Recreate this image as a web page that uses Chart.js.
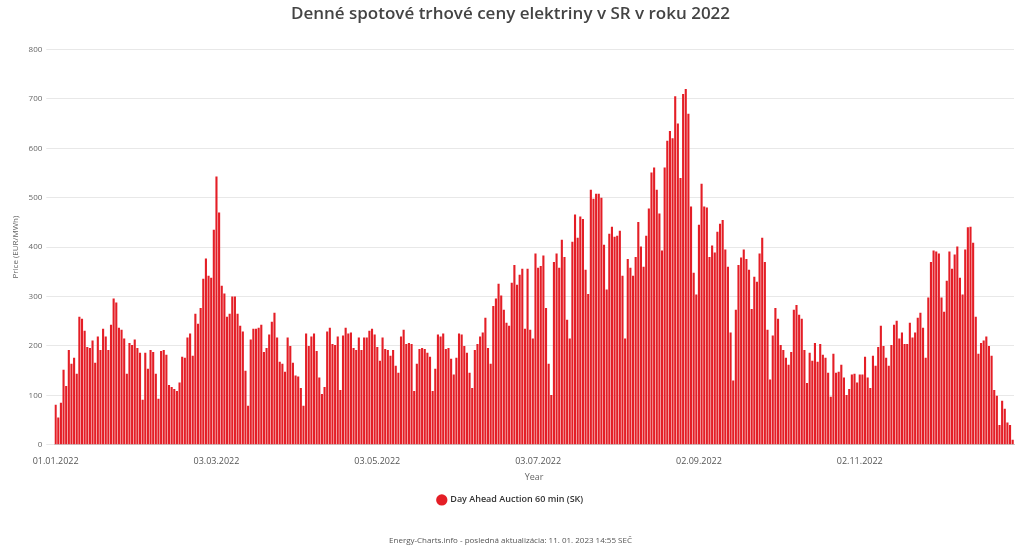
<!DOCTYPE html>
<html><head><meta charset="utf-8">
<script src="https://cdn.jsdelivr.net/npm/chart.js@4"></script>
<style>html,body{margin:0;padding:0;background:#fff}#w{width:1024px;height:555px}</style>
</head><body><div id="w"><canvas id="c"></canvas></div>
<script>
const seriesName = "Day Ahead Auction 60 min (SK)";
const janFeb = [81,55,85,152,119,192,164,176,144,259,255,231,198,196,211,166,219,192,235,219,192,243,296,288,237,233,215,144,206,202,213,196,186,91,186,154,192,188,144,93,190,192,182,121,117,113,109,126,178,176,217,225,180,265,245,277];
const marApr = [336,377,342,338,435,543,470,322,306,259,265,300,300,265,241,229,150,79,213,235,235,237,243,188,196,223,249,267,217,168,164,148,217,200,166,140,138,115,79,225,200,219,225,190,136,103,117,229,237,204,202,219,111,221,237,225,227,196,192,217];
const mayJun = [192,217,217,231,235,223,198,170,217,194,192,180,192,160,146,219,233,204,206,204,109,164,194,196,194,186,178,109,154,223,219,225,194,196,174,142,176,225,223,200,186,146,115,192,204,219,227,257,196,164,281,296,326,302,273,247,241,328,364,324,344,356,235];
const julAug = [356,233,215,387,358,362,383,277,164,101,370,387,358,415,380,253,215,411,466,419,462,457,354,305,516,498,508,508,500,405,314,427,441,421,423,433,342,215,376,358,342,380,451,401,360,423,478,551,561,516,468,393,561,615,635,620,705,650,540,710,720];
const sepOct = [670,482,348,304,445,528,482,480,380,403,389,431,447,455,395,360,227,130,273,364,379,395,376,354,275,340,330,387,419,370,233,132,221,277,255,202,192,176,162,188,273,283,263,255,192,125,186,170,206,168,204,182,176,146,97,184,146,148,162,136,101,113,142];
const novDec = [144,126,142,142,178,136,115,180,160,198,241,200,176,160,202,243,251,215,227,204,204,247,217,227,257,267,237,176,298,370,393,391,387,298,269,332,391,356,385,401,338,304,395,440,441,409,259,184,206,211,219,200,180,111,99,40,89,73,45,40,10];
const prices = [].concat(janFeb, marApr, mayJun, julAug, sepOct, novDec);
const labels = [];
const d0 = new Date(Date.UTC(2022,0,1));
for (let i=0;i<prices.length;i++){const d=new Date(d0.getTime()+i*86400000);labels.push(String(d.getUTCDate()).padStart(2,'0')+'.'+String(d.getUTCMonth()+1).padStart(2,'0')+'.2022');}
const tickStep = 61;
Chart.defaults.font.family = "'Open Sans', sans-serif";
Chart.defaults.color = '#555';
new Chart(document.getElementById('c'), {
  type:'bar',
  data:{labels, datasets:[{label:seriesName, data:prices, backgroundColor:'#e41e26', borderWidth:0, categoryPercentage:1, barPercentage:0.8}]},
  options:{
    responsive:true, maintainAspectRatio:false, animation:false,
    layout:{padding:{left:7,right:10,top:2,bottom:9}},
    plugins:{
      title:{display:true, text:'Denné spotové trhové ceny elektriny v SR v roku 2022', color:'#444', font:{size:17, weight:'600'}, padding:{top:2,bottom:25}},
      subtitle:{display:true, position:'bottom', text:'Energy-Charts.info - posledná aktualizácia: 11. 01. 2023 14:55 SEČ', color:'#555', font:{size:8}, padding:{top:22,bottom:0}},
      legend:{position:'bottom', labels:{usePointStyle:true, pointStyle:'circle', boxWidth:8, boxHeight:8, color:'#333', font:{size:9, weight:'600'}, padding:9}},
      tooltip:{enabled:false}
    },
    scales:{
      x:{grid:{display:false}, border:{color:'#ccc'}, title:{display:true,text:'Year',font:{size:9},color:'#666',padding:{top:2}},
         ticks:{autoSkip:false, maxRotation:0, font:{size:9}, color:'#555', callback:(v,i)=> i%tickStep===0 ? labels[i] : null}},
      y:{min:0,max:800, grid:{color:'#e8e8e8'}, border:{display:false}, title:{display:true,text:'Price (EUR/MWh)',font:{size:8},color:'#666'},
         ticks:{stepSize:100, font:{size:8}, color:'#666', padding:4}}
    }
  }
});
</script></body></html>
